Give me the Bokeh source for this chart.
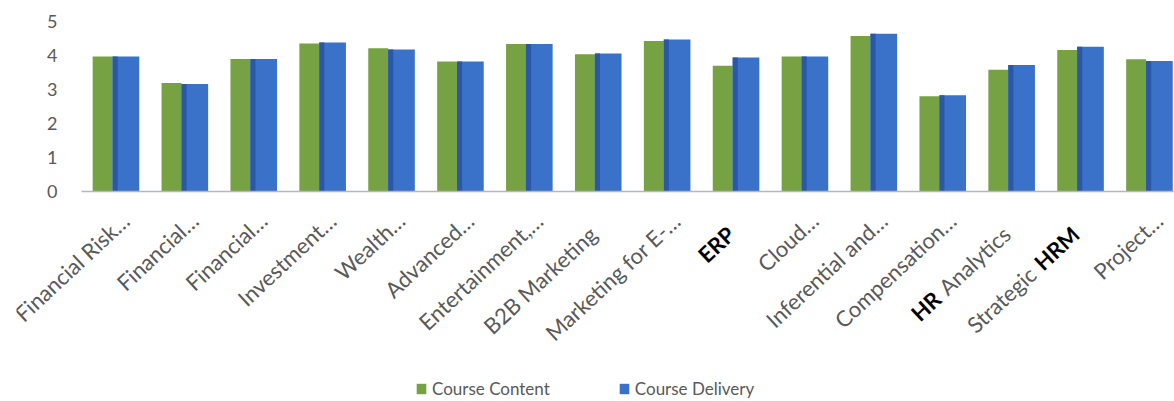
import math
from bokeh.plotting import figure
from bokeh.models import (ColumnDataSource, Range1d, FixedTicker, Legend,
                          LegendItem)
from bokeh.core.properties import value, field
from bokeh.transform import dodge
from bokeh.embed import file_html
from bokeh.resources import INLINE

# ---------------- data ----------------
courses = ["Financial Risk…", "Financial…", "Financial…", "Investment…",
           "Wealth…", "Advanced…", "Entertainment,…", "B2B Marketing",
           "Marketing for E-…", "ERP", "Cloud…", "Inferential and…",
           "Compensation…", "HR Analytics", "Strategic HRM", "Project…"]
course_content = [3.97, 3.19, 3.90, 4.35, 4.21, 3.82, 4.34, 4.04,
                  4.43, 3.70, 3.97, 4.57, 2.80, 3.58, 4.16, 3.89]
course_delivery = [3.97, 3.16, 3.90, 4.38, 4.18, 3.82, 4.34, 4.06,
                   4.47, 3.94, 3.97, 4.64, 2.83, 3.72, 4.26, 3.84]
y_ticks = [0, 1, 2, 3, 4, 5]
series_names = ["Course Content", "Course Delivery"]
# words printed in bold black inside some category labels
bold_parts = {"ERP": "ERP", "HR Analytics": "HR", "Strategic HRM": "HRM"}

# ---------------- style / layout ----------------
FONT = "Lato"
GREEN = "#76a243"
BLUE = "#3b72c9"
DARK_BLUE = "#2a58a6"
GRAY_TXT = "#595959"
AXIS_GRAY = "#b3b7bf"
ANGLE = 0.75
X_FS = "22px"
W, H = 1174, 401
BOTTOM, LEFT = 2, 16
AXIS_X_PX = 81                    # canvas column where the categories start
Y_LABEL_RIGHT_PX = 60             # y tick labels end left of this column
CAT_PX = 68.9                     # width of one category
Y0_PX = 191                       # canvas row of value 0
Y5_PX = 21                        # canvas row of value 5
PX_PER_UNIT = (Y0_PX - Y5_PX) / 5.0
FRAME_BOTTOM = H - BOTTOM
LABEL_STANDOFF = 39               # px below the axis line (label anchor)
X_NUDGE = -5
TRUNC_SHIFT = -20                 # truncated labels sit further along their line
SHIFT = {"HR Analytics": 95, "Strategic HRM": 59}   # px along text for split labels

x_start = -0.5 - (AXIS_X_PX - LEFT) / CAT_PX
x_end = -0.5 + (W - AXIS_X_PX) / CAT_PX
y_start = -(FRAME_BOTTOM - Y0_PX) / PX_PER_UNIT
y_end = 5 + Y5_PX / PX_PER_UNIT

p = figure(width=W, height=H, output_backend="svg", toolbar_location=None,
           x_range=Range1d(x_start, x_end), y_range=Range1d(y_start, y_end),
           min_border_left=LEFT, min_border_right=0, min_border_top=0,
           min_border_bottom=BOTTOM)
p.outline_line_color = None
p.xgrid.visible = False
p.ygrid.visible = False
p.background_fill_color = "white"
p.border_fill_color = "white"

idx = list(range(len(courses)))
src = ColumnDataSource(dict(x=idx, content=course_content, delivery=course_delivery))

r1 = p.vbar(x=dodge("x", -0.193, range=p.x_range), top="content", width=0.29,
            fill_color=GREEN, line_color=None, source=src)
r2 = p.vbar(x=dodge("x", 0.145, range=p.x_range), top="delivery", width=0.386,
            fill_color=BLUE, line_color=None, source=src)
p.vbar(x=dodge("x", -0.012, range=p.x_range), top="delivery", width=0.075,
       fill_color=DARK_BLUE, line_color=None, source=src)

# y axis (drawn at a fixed place so that the frame can extend further left)
yax = p.yaxis[0]
yax.fixed_location = -0.5 - (AXIS_X_PX - Y_LABEL_RIGHT_PX) / CAT_PX
yax.ticker = FixedTicker(ticks=y_ticks)
yax.axis_line_color = None
yax.major_tick_line_color = None
yax.minor_tick_line_color = None
yax.major_tick_out = 0
yax.minor_tick_out = 0
yax.major_label_standoff = 3
yax.major_label_text_font = FONT
yax.major_label_text_font_size = "18px"
yax.major_label_text_color = GRAY_TXT

# x axis: only its line, fixed at value 0
xax = p.xaxis[0]
xax.fixed_location = 0
xax.bounds = (-0.5, x_end)
xax.ticker = FixedTicker(ticks=[])
xax.axis_line_color = AXIS_GRAY
xax.axis_line_width = 1.5
xax.major_tick_line_color = None
xax.minor_tick_line_color = None
xax.major_tick_out = 0
xax.major_tick_in = 0
xax.major_label_standoff = 0

# category labels (rotated), with the bold parts of the reference
lx, ly, lt, ls, lc, lxo, lyo = [], [], [], [], [], [], []
label_y = -LABEL_STANDOFF / PX_PER_UNIT


def piece(i, text, bold, shift=0.0):
    lx.append(i)
    ly.append(label_y)
    lt.append(text)
    ls.append("bold" if bold else "normal")
    lc.append("#000000" if bold else GRAY_TXT)
    lxo.append(-shift * math.cos(ANGLE) + X_NUDGE)
    lyo.append(shift * math.sin(ANGLE))


for i, t in enumerate(courses):
    b = bold_parts.get(t)
    if b is None:
        piece(i, t, False, TRUNC_SHIFT if t.endswith("…") else 0.0)
    elif b == t:
        piece(i, t, True)
    elif t.startswith(b):
        piece(i, t[len(b):].strip(), False)
        piece(i, b, True, SHIFT[t])
    else:
        piece(i, b, True)
        piece(i, t[:-len(b)].strip(), False, SHIFT[t])

lab_src = ColumnDataSource(dict(x=lx, y=ly, text=lt, style=ls, color=lc, xo=lxo, yo=lyo))
p.text(x="x", y="y", text="text", angle=ANGLE, x_offset="xo", y_offset="yo",
       text_align="right", text_baseline="middle", text_font=value(FONT),
       text_font_size=value(X_FS), text_font_style=field("style"),
       text_color=field("color"), source=lab_src)

legend = Legend(items=[LegendItem(label=series_names[0], renderers=[r1]),
                       LegendItem(label=series_names[1], renderers=[r2])],
                orientation="horizontal", location=(415 - LEFT, FRAME_BOTTOM - 399),
                border_line_color=None, background_fill_alpha=0,
                padding=0, margin=0, spacing=68, glyph_width=12, glyph_height=13,
                label_standoff=5, label_height=20,
                label_text_font=FONT, label_text_font_size="17px",
                label_text_color=GRAY_TXT)
p.add_layout(legend)

open("out.html", "w").write(file_html(p, INLINE))
